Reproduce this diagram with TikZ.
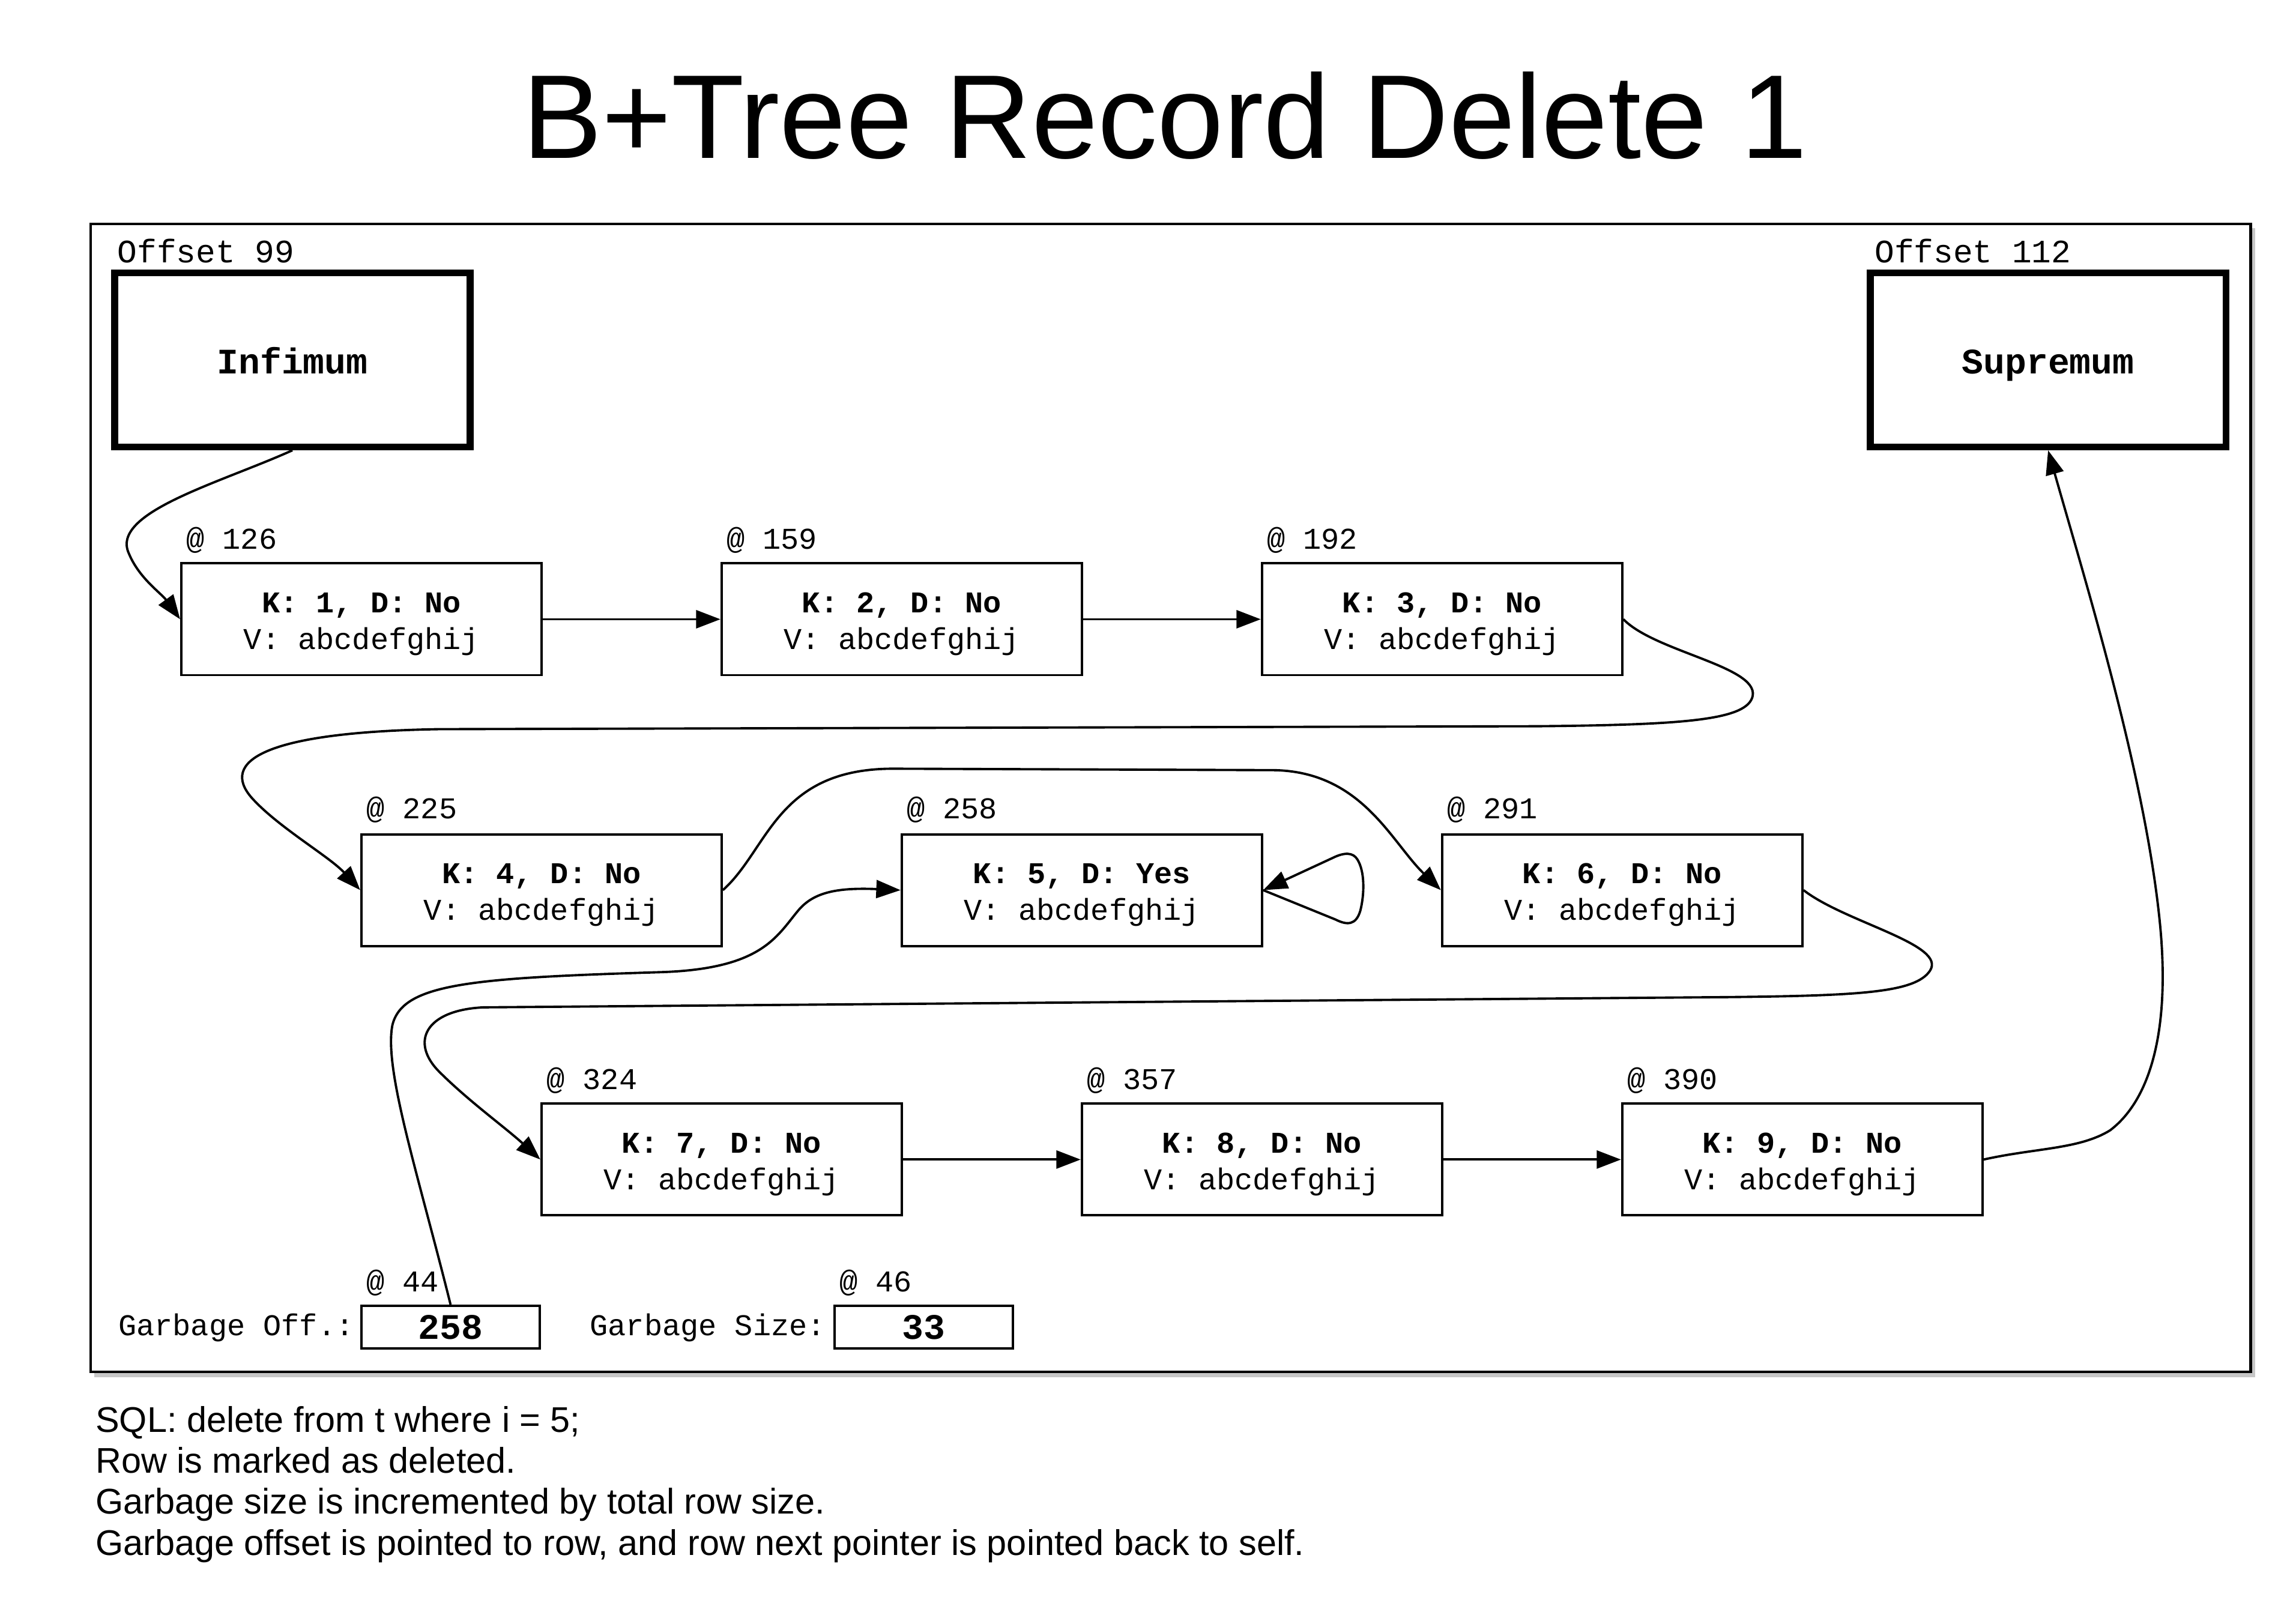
\documentclass[tikz,border=0pt]{standalone}
\usepackage{fontspec}
\setmainfont{Liberation Sans}
\newfontfamily\monof{Liberation Mono}
\usetikzlibrary{arrows.meta}
\newcommand{\recline}[1]{\rule{0pt}{14pt}{\bfseries #1}\\V: abcdefghij}
\begin{document}
\begin{tikzpicture}[x=0.024388cm, y=-0.024388cm,
  rec/.style={draw, line width=1.1pt, minimum width=6cm, minimum height=1.86cm, inner sep=0pt, anchor=north west, align=center, font=\monof\fontsize{14.3}{17.3}\selectfont},
  bound/.style={draw, line width=3.2pt, minimum width=5.92cm, minimum height=2.9cm, inner sep=0pt, anchor=north west, text height=13pt, text depth=0pt, font=\monof\bfseries\fontsize{17}{20}\selectfont},
  gbox/.style={draw, line width=1.1pt, minimum width=2.97cm, minimum height=0.71cm, inner sep=0pt, anchor=north west, font=\monof\bfseries\fontsize{17}{20}\selectfont},
  lab/.style={anchor=base west, inner sep=0pt, font=\monof\fontsize{14.3}{17}\selectfont},
  offlab/.style={anchor=base west, inner sep=0pt, font=\monof\fontsize{15.5}{18}\selectfont},
  foot/.style={anchor=base west, inner sep=0pt, font=\fontsize{16.9}{20}\selectfont},
  conn/.style={line width=1.1pt, -{Triangle[length=11.5pt,width=8.5pt]}}]
\useasboundingbox (0,0) rectangle (1568,1103);
% title
\node[anchor=base, inner sep=0pt, font=\fontsize{56.5}{60}\selectfont] (title) at (795.5,108) {B+Tree Record Delete 1};
% frame with shadow
\fill[black!22] (64.5,156) rectangle (1540,940.5);
\draw[line width=1.2pt, fill=white] (62,153) rectangle (1537,937);
% infimum / supremum
\node[offlab] (offinf) at (80,179.5) {Offset 99};
\node[bound] (inf) at (76,184) {Infimum};
\node[offlab] (offsup) at (1280,179.5) {Offset 112};
\node[bound] (sup) at (1275,184) {Supremum};
% records
\node[lab] (a1) at (127,375) {@ 126};
\node[rec] (k1) at (123,384) {\recline{K: 1, D: No}};
\node[lab] (a2) at (496,375) {@ 159};
\node[rec] (k2) at (492,384) {\recline{K: 2, D: No}};
\node[lab] (a3) at (865,375) {@ 192};
\node[rec] (k3) at (861,384) {\recline{K: 3, D: No}};
\node[lab] (a4) at (250,559) {@ 225};
\node[rec] (k4) at (246,569) {\recline{K: 4, D: No}};
\node[lab] (a5) at (619,559) {@ 258};
\node[rec] (k5) at (615,569) {\recline{K: 5, D: Yes}};
\node[lab] (a6) at (988,559) {@ 291};
\node[rec] (k6) at (984,569) {\recline{K: 6, D: No}};
\node[lab] (a7) at (373,744) {@ 324};
\node[rec] (k7) at (369,753) {\recline{K: 7, D: No}};
\node[lab] (a8) at (742,744) {@ 357};
\node[rec] (k8) at (738,753) {\recline{K: 8, D: No}};
\node[lab] (a9) at (1111,744) {@ 390};
\node[rec] (k9) at (1107,753) {\recline{K: 9, D: No}};
% garbage
\node[lab] (a44) at (250,882) {@ 44};
\node[gbox] (goff) at (246,891) {258};
\node[lab, anchor=base east] (goffl) at (242,912) {Garbage Off.:};
\node[lab] (a46) at (573,882) {@ 46};
\node[gbox] (gsize) at (569,891) {33};
\node[lab, anchor=base east] (gsizel) at (564,912) {Garbage Size:};
% connectors
\draw[conn] (inf.south) .. controls (150,330) and (75,350) .. (88,378) .. controls (95,395) and (110,405) .. (k1.west);
\draw[conn] (k1.east) -- (k2.west);
\draw[conn] (k2.east) -- (k3.west);
\draw[conn] (k3.east) .. controls (1130,445) and (1200,455) .. (1197,475) .. controls (1194,492) and (1150,495) .. (1050,496) -- (300,498) .. controls (180,500) and (150,520) .. (172,545) .. controls (190,565) and (225,585) .. (k4.west);
\draw[conn] (k4.east) .. controls (525,580) and (530,525) .. (610,525) -- (870,526) .. controls (930,527) and (950,575) .. (k6.west);
\draw[conn] (k5.east) -- (912,628) .. controls (920,632) and (926,632) .. (929,622) .. controls (932,610) and (932,595) .. (927,587) .. controls (924,582) and (918,582) .. (910,586) -- (k5.east);
\draw[conn] (goff.north) .. controls (285,800) and (262,730) .. (268,700) .. controls (275,672) and (320,668) .. (450,664) .. controls (520,662) and (530,640) .. (545,622) .. controls (555,610) and (570,606) .. (k5.west);
\draw[conn] (k6.east) .. controls (1260,630) and (1330,645) .. (1318,663) .. controls (1308,678) and (1270,680) .. (1180,681) -- (330,688) .. controls (290,690) and (280,712) .. (300,732) .. controls (320,752) and (345,770) .. (k7.west);
\draw[conn] (k7.east) -- (k8.west);
\draw[conn] (k8.east) -- (k9.west);
\draw[conn] (k9.east) .. controls (1390,784) and (1420,785) .. (1441,772) .. controls (1470,750) and (1482,700) .. (1475,630) .. controls (1465,530) and (1425,400) .. (sup.south);
% footer
\node[foot] (f1) at (65,978) {SQL: delete from t where i = 5;};
\node[foot] (f2) at (65,1006) {Row is marked as deleted.};
\node[foot] (f3) at (65,1034) {Garbage size is incremented by total row size.};
\node[foot] (f4) at (65,1062) {Garbage offset is pointed to row, and row next pointer is pointed back to self.};
\end{tikzpicture}
\end{document}
